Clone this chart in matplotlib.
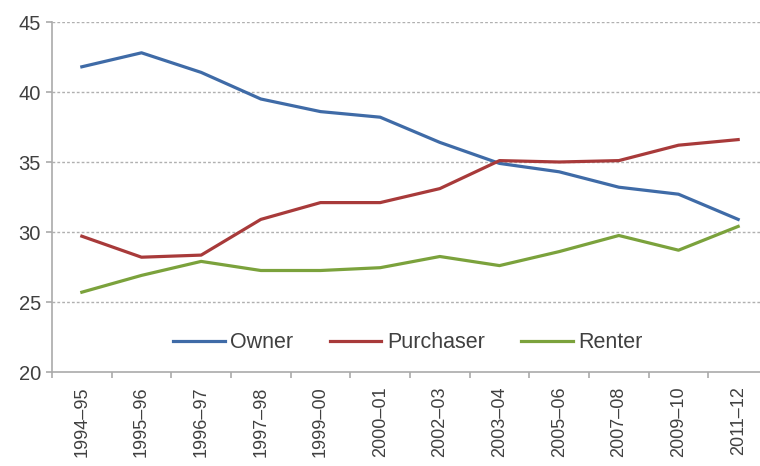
import numpy as np
import matplotlib
matplotlib.use("Agg")
import matplotlib.pyplot as plt

# ── DATA ──────────────────────────────────────────────
years = ["1994–95", "1995–96", "1996–97", "1997–98", "1999–00", "2000–01",
         "2002–03", "2003–04", "2005–06", "2007–08", "2009–10", "2011–12"]
owner     = [41.8, 42.8, 41.4, 39.5, 38.6, 38.2, 36.4, 34.9, 34.3, 33.2, 32.7, 30.9]
purchaser = [29.7, 28.2, 28.35, 30.9, 32.1, 32.1, 33.1, 35.1, 35.0, 35.1, 36.2, 36.6]
renter    = [25.7, 26.9, 27.9, 27.25, 27.25, 27.45, 28.25, 27.6, 28.6, 29.75, 28.7, 30.4]

plt.rcParams["font.family"] = ["Liberation Sans", "DejaVu Sans"]

fig = plt.figure(figsize=(7.6, 4.66), dpi=100)
ax = fig.add_axes([52 / 760, 1 - 372 / 466, 716 / 760, 350 / 466])

x = np.arange(len(years))
ax.plot(x, owner, color="#3f6ba7", lw=2.3, label="Owner")
ax.plot(x, purchaser, color="#a83a3a", lw=2.3, label="Purchaser")
ax.plot(x, renter, color="#7ba23c", lw=2.3, label="Renter")

ax.set_xlim(-0.5, len(years) - 0.5)
ax.set_ylim(20, 45)
ax.set_yticks([20, 25, 30, 35, 40, 45])
ax.set_xticks(x)
ax.set_xticklabels(years, rotation=90, fontsize=13, color="#404040")
ax.set_xticks(np.arange(-0.5, len(years), 1.0), minor=True)
ax.tick_params(axis="x", which="major", length=0, pad=10.5)
ax.tick_params(axis="x", which="minor", length=4, color="#aaaaaa", width=1.2)
ax.tick_params(axis="y", length=4, color="#aaaaaa", width=1.2, labelsize=14.5,
               labelcolor="#404040", pad=4)

for v in [25, 30, 35, 40, 45]:
    ax.axhline(v, color="#b0b0b0", lw=1.0, ls=(0, (2, 1.5)), zorder=0)

for s in ["top", "right"]:
    ax.spines[s].set_visible(False)
for s in ["left", "bottom"]:
    ax.spines[s].set_color("#aaaaaa")
    ax.spines[s].set_linewidth(1.2)

ax.legend(loc="center", bbox_to_anchor=(0.497, 0.083), ncol=3, frameon=False,
          fontsize=15.5, handlelength=2.4, handletextpad=0.25, columnspacing=1.7,
          labelcolor="#404040")

fig.savefig("out.png", dpi=100)
